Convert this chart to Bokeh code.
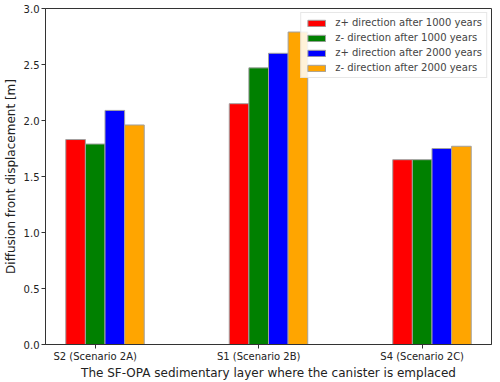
import numpy as np
from bokeh.plotting import figure
from bokeh.models import Range1d, FixedTicker, Legend, LegendItem
from bokeh.embed import file_html
from bokeh.resources import INLINE

categories = ["S2 (Scenario 2A)", "S1 (Scenario 2B)", "S4 (Scenario 2C)"]
zplus_1000 = [1.83, 2.15, 1.65]
zminus_1000 = [1.79, 2.47, 1.65]
zplus_2000 = [2.09, 2.60, 1.75]
zminus_2000 = [1.96, 2.79, 1.77]
series_names = ["z+ direction after 1000 years", "z- direction after 1000 years",
                "z+ direction after 2000 years", "z- direction after 2000 years"]
series_colors = ["red", "green", "blue", "orange"]
series_values = [zplus_1000, zminus_1000, zplus_2000, zminus_2000]
y_ticks = [0.0, 0.5, 1.0, 1.5, 2.0, 2.5, 3.0]

bw = 0.12
xs = np.arange(len(categories))

p = figure(width=500, height=382, output_backend="svg", toolbar_location=None,
           x_range=Range1d(-0.304, 2.424), y_range=Range1d(0, 3.0),
           min_border_left=43, min_border_right=9, min_border_top=8, min_border_bottom=37)

FONT = "DejaVu Sans"
items = []
for i, (vals, col, name) in enumerate(zip(series_values, series_colors, series_names)):
    r = p.vbar(x=xs + (i - 1) * bw, top=vals, width=bw, fill_color=col,
               line_color="#a0a0a0", line_width=1)
    items.append(LegendItem(label=name, renderers=[r]))

legend = Legend(items=items, location="top_right")
legend.label_text_font = FONT
legend.label_text_font_size = "10px"
legend.label_height = 11
legend.glyph_height = 8
legend.glyph_width = 22
legend.spacing = 4
legend.padding = 4
legend.margin = 4
legend.border_line_color = "#d0d0d0"
legend.background_fill_alpha = 0.85
legend.label_standoff = 8
p.add_layout(legend)

p.xgrid.visible = False
p.ygrid.visible = False
p.outline_line_color = "#333333"
p.outline_line_width = 1

p.xaxis.ticker = FixedTicker(ticks=list(xs))
p.xaxis.major_label_overrides = {int(i): c for i, c in zip(xs, categories)}
p.yaxis.ticker = FixedTicker(ticks=y_ticks)
p.yaxis.major_label_overrides = {t: f"{t:.1f}" for t in y_ticks}

for ax in (p.xaxis[0], p.yaxis[0]):
    ax.axis_line_color = "#333333"
    ax.major_tick_line_color = "#333333"
    ax.major_tick_in = 0
    ax.major_tick_out = 4
    ax.minor_tick_line_color = None
    ax.major_label_text_font = FONT
    ax.major_label_text_font_size = "10px"
    ax.major_label_text_color = "#222222"
    ax.axis_label_text_font = FONT
    ax.axis_label_text_font_size = "12px"
    ax.axis_label_text_font_style = "normal"
    ax.axis_label_text_color = "#222222"

p.xaxis.axis_label = "The SF-OPA sedimentary layer where the canister is emplaced"
p.yaxis.axis_label = "Diffusion front displacement [m]"
p.xaxis.axis_label_standoff = 1
p.yaxis.axis_label_standoff = 3
p.xaxis.major_label_standoff = 2
p.yaxis.major_label_standoff = 2

open("out.html", "w").write(file_html(p, INLINE))
